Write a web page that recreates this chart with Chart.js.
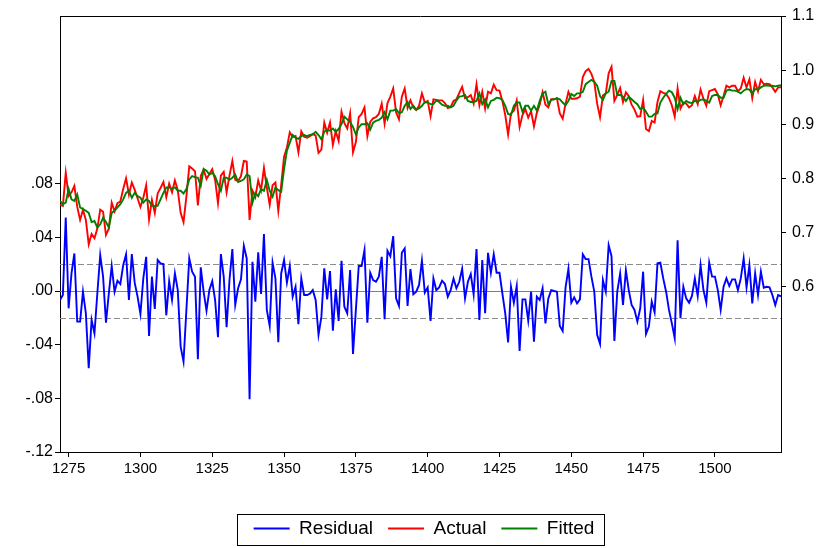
<!DOCTYPE html>
<html>
<head>
<meta charset="utf-8">
<script src="https://cdn.jsdelivr.net/npm/chart.js@4.4.0/dist/chart.umd.min.js"></script>
<style>
  html, body { margin: 0; padding: 0; background: #fff; }
  #wrap { width: 828px; height: 548px; }
</style>
</head>
<body>
<div id="wrap"><canvas id="chart" width="828" height="548"></canvas></div>
<script>
// observations run 1272 .. 1523, one value per year
const firstYear = 1272;

const residual = [
  -0.0067, -0.0030, 0.0548, -0.0129, 0.0131, 0.0280, -0.0228, -0.0228, -0.0005, -0.0166,
  -0.0575, -0.0216, -0.0315, -0.0017, 0.0268, 0.0107, -0.0236, -0.0017, 0.0186, -0.0005,
  0.0077, 0.0052, 0.0193, 0.0273, -0.0067, 0.0275, 0.0062, -0.0042, -0.0171, 0.0094,
  0.0255, -0.0335, 0.0107, -0.0134, 0.0231, 0.0206, 0.0201, -0.0181, 0.0074, -0.0067,
  0.0131, 0.0007,
  -0.0414, -0.0526, -0.0141, 0.0243, 0.0144, 0.0107, -0.0508, 0.0176, -0.0005, -0.0146,
  0.0007, 0.0074, -0.0067, -0.0345, 0.0275, 0.0107, -0.0270, 0.0082, 0.0312, -0.0104,
  0.0020, 0.0087, 0.0337, 0.0243, -0.0806, 0.0218, -0.0079, 0.0288, -0.0022, 0.0424,
  -0.0141, -0.0260, 0.0211, 0.0094, -0.0382, 0.0131, 0.0231, 0.0062, 0.0186, -0.0042,
  0.0032,
  -0.0248, 0.0094, -0.0030, -0.0030, -0.0020, 0.0007, -0.0067, -0.0327, -0.0191, 0.0169,
  -0.0062, 0.0149, -0.0295, 0.0012, -0.0223, 0.0226, -0.0117, -0.0166, 0.0156, -0.0469,
  -0.0141, 0.0186, 0.0186, 0.0305, -0.0236, 0.0136, 0.0082, 0.0069, 0.0107, 0.0255,
  -0.0211, 0.0300, 0.0260, 0.0409, -0.0055, -0.0112, 0.0285, 0.0317, -0.0112, 0.0164,
  -0.0025, -0.0005, 0.0045,
  0.0226, -0.0012, 0.0027, -0.0223, 0.0094, 0.0007, 0.0027, 0.0077, 0.0052, -0.0042,
  0.0007, 0.0092, 0.0020, 0.0069, 0.0166, -0.0055, 0.0069, 0.0126, -0.0025, 0.0312,
  -0.0216, 0.0231, -0.0166, 0.0285, 0.0136, 0.0275, 0.0136, 0.0136, -0.0017, -0.0166,
  -0.0384, 0.0032, -0.0087, 0.0037, -0.0446, -0.0062, -0.0062, -0.0221, -0.0005, -0.0377,
  -0.0042,
  -0.0067, 0.0020, -0.0241, -0.0055, 0.0007, 0.0000, -0.0005, -0.0260, -0.0298, 0.0027,
  0.0166, -0.0087, -0.0047, -0.0092, -0.0062, 0.0273, 0.0238, 0.0238, 0.0107, -0.0005,
  -0.0327, -0.0394, 0.0082, -0.0005, 0.0342, 0.0260, -0.0372, -0.0005, 0.0131, -0.0104,
  0.0156, 0.0007, -0.0104, -0.0141, -0.0228, -0.0129, 0.0144, -0.0320, -0.0265, -0.0079,
  -0.0159, 0.0206, 0.0211,
  0.0094, -0.0005, -0.0141, -0.0241, -0.0352, 0.0379, -0.0203, 0.0032, -0.0055, -0.0087,
  -0.0037, 0.0094, -0.0037, 0.0193, 0.0007, -0.0087, 0.0211, 0.0107, 0.0107, 0.0007,
  -0.0141, 0.0032, 0.0094, 0.0037, 0.0087, 0.0087, 0.0007, 0.0094, 0.0243, 0.0027,
  0.0193, -0.0092, 0.0131, -0.0030, 0.0144, 0.0025, 0.0032, 0.0027, -0.0030, -0.0104,
  -0.0030, -0.0040
];

const actual = [
  .751, .749, .810, .767, .774, .786, .747, .723, .742, .723,
  .678, .697, .689, .707, .742, .738, .695, .707, .755, .739,
  .754, .757, .780, .800, .770, .792, .779, .763, .747, .764,
  .787, .724, .760, .736, .772, .782, .793, .765, .790, .774,
  .796, .778,
  .736, .719, .766, .822, .818, .813, .750, .804, .816, .799,
  .808, .817, .797, .754, .805, .812, .774, .805, .832, .797,
  .795, .804, .832, .831, .723, .777, .765, .796, .778, .819,
  .783, .751, .787, .792, .740, .788, .840, .857, .885, .876,
  .878,
  .848, .887, .877, .875, .878, .882, .879, .847, .853, .903,
  .884, .903, .862, .887, .869, .923, .902, .892, .920, .848,
  .867, .913, .919, .931, .878, .904, .911, .913, .919, .938,
  .901, .939, .951, .966, .922, .909, .951, .966, .930, .944,
  .931, .926, .934,
  .957, .940, .943, .915, .946, .945, .944, .944, .939, .930,
  .932, .943, .946, .958, .969, .948, .950, .954, .938, .974,
  .935, .960, .929, .960, .957, .973, .963, .962, .943, .917,
  .881, .920, .925, .944, .895, .917, .928, .912, .924, .896,
  .921,
  .936, .959, .936, .931, .946, .946, .948, .920, .910, .938,
  .960, .947, .947, .948, .951, .987, .998, 1.002, .993, .978,
  .938, .913, .953, .957, .994, 1.006, .943, .954, .967, .941,
  .959, .952, .936, .927, .914, .915, .945, .891, .887, .906,
  .903, .941, .961,
  .958, .956, .948, .935, .914, .966, .929, .940, .938, .931,
  .935, .952, .937, .964, .947, .934, .961, .963, .965, .955,
  .935, .952, .971, .968, .971, .971, .961, .966, .986, .968,
  .983, .948, .978, .961, .982, .974, .975, .974, .968, .960,
  .968, .968
];

const fitted = [
  .758, .752, .755, .780, .761, .758, .770, .746, .743, .740,
  .736, .719, .721, .709, .715, .727, .719, .709, .736, .740,
  .746, .752, .761, .773, .777, .764, .773, .767, .764, .755,
  .761, .758, .749, .749, .749, .761, .773, .783, .783, .781,
  .783, .777,
  .777, .772, .780, .798, .804, .802, .801, .786, .817, .814,
  .807, .810, .804, .789, .777, .801, .801, .797, .801, .807,
  .793, .795, .798, .807, .804, .755, .773, .767, .780, .777,
  .797, .777, .766, .783, .778, .775, .817, .851, .866, .880,
  .875,
  .873, .878, .880, .878, .880, .881, .886, .880, .872, .886,
  .890, .888, .892, .886, .891, .900, .914, .909, .904, .895,
  .881, .894, .900, .900, .902, .890, .903, .906, .908, .912,
  .922, .909, .925, .925, .928, .920, .922, .934, .941, .928,
  .934, .927, .929,
  .934, .941, .940, .937, .937, .944, .941, .936, .934, .934,
  .931, .934, .944, .951, .952, .954, .943, .941, .941, .943,
  .957, .937, .946, .931, .943, .945, .949, .948, .945, .934,
  .919, .917, .934, .940, .940, .923, .934, .934, .925, .934,
  .925,
  .943, .957, .960, .937, .945, .946, .948, .946, .940, .935,
  .943, .956, .952, .957, .957, .960, .974, .978, .982, .978,
  .971, .952, .945, .957, .960, .980, .980, .954, .954, .951,
  .943, .951, .946, .941, .937, .928, .931, .923, .914, .914,
  .919, .920, .940,
  .949, .956, .962, .959, .949, .928, .949, .937, .943, .940,
  .939, .943, .941, .945, .946, .943, .940, .952, .954, .954,
  .949, .949, .962, .964, .962, .962, .960, .957, .962, .965,
  .964, .957, .965, .964, .968, .971, .972, .971, .971, .970,
  .971, .972
];

const xTicks = [1275, 1300, 1325, 1350, 1375, 1400, 1425, 1450, 1475, 1500];
const leftTicks = [-0.12, -0.08, -0.04, 0, 0.04, 0.08];
const rightTicks = [0.6, 0.7, 0.8, 0.9, 1.0, 1.1];
const seLines = [0.02, -0.02];

const years = residual.map((_, i) => firstYear + i);
const toPoints = vals => vals.map((v, i) => ({ x: years[i], y: v }));

const FONT = 'Liberation Sans, Arial, sans-serif';

// eviews style: ".08", "-.04"
function shortNum(v) {
    const s = Math.abs(v).toFixed(2).replace(/^0/, '');
    return (v < 0 ? '-' : '') + s;
}

const frameAndRefs = {
    id: 'frameAndRefs',
    beforeDatasetsDraw(chart) {
        const { ctx, chartArea: a, scales } = chart;
        ctx.save();
        ctx.lineWidth = 1;
        ctx.strokeStyle = '#7f7f7f';
        const y0 = Math.round(scales.yL.getPixelForValue(0)) + 0.5;
        ctx.beginPath();
        ctx.moveTo(a.left, y0);
        ctx.lineTo(a.right, y0);
        ctx.stroke();
        ctx.setLineDash([6, 3]);
        ctx.strokeStyle = '#8c8c8c';
        seLines.forEach(v => {
            const y = Math.round(scales.yL.getPixelForValue(v)) + 0.5;
            ctx.beginPath();
            ctx.moveTo(a.left, y);
            ctx.lineTo(a.right, y);
            ctx.stroke();
        });
        ctx.restore();
    },
    afterDraw(chart) {
        const { ctx, chartArea: a } = chart;
        ctx.save();
        ctx.strokeStyle = '#000';
        ctx.lineWidth = 1;
        ctx.beginPath();
        ctx.moveTo(a.left, Math.round(a.top) + 0.5);
        ctx.lineTo(a.right, Math.round(a.top) + 0.5);
        ctx.stroke();

        // box round the legend
        const hb = chart.legend.legendHitBoxes;
        if (hb && hb.length) {
            const last = hb[hb.length - 1];
            const left = Math.round(hb[0].left - 17) + 0.5;
            const right = Math.round(last.left + last.width + 10) + 0.5;
            const top = Math.round(hb[0].top - 5) + 0.5;
            const bottom = Math.round(hb[0].top + hb[0].height + 7) + 0.5;
            ctx.strokeRect(left, top, right - left, bottom - top);
        }
        ctx.restore();
    }
};

new Chart(document.getElementById('chart'), {
    type: 'line',
    data: {
        datasets: [
            { label: 'Residual', data: toPoints(residual), yAxisID: 'yL', borderColor: '#0000ff', backgroundColor: '#0000ff', borderWidth: 1.9, order: 2 },
            { label: 'Actual', data: toPoints(actual), yAxisID: 'yR', borderColor: '#ff0000', backgroundColor: '#ff0000', borderWidth: 1.9, order: 1 },
            { label: 'Fitted', data: toPoints(fitted), yAxisID: 'yR', borderColor: '#008000', backgroundColor: '#008000', borderWidth: 1.9, order: 0 }
        ]
    },
    options: {
        responsive: false,
        animation: false,
        events: [],
        elements: { point: { radius: 0 }, line: { tension: 0 } },
        layout: { padding: { top: 16, left: 20, right: 0, bottom: 0 } },
        plugins: {
            tooltip: { enabled: false },
            legend: {
                position: 'bottom',
                labels: {
                    usePointStyle: true,
                    pointStyle: 'line',
                    pointStyleWidth: 36,
                    padding: 15,
                    color: '#000',
                    font: { family: FONT, size: 19 },
                    sort: (a, b) => a.datasetIndex - b.datasetIndex
                }
            }
        },
        scales: {
            x: {
                type: 'linear',
                min: firstYear,
                max: years[years.length - 1],
                afterBuildTicks: s => { s.ticks = xTicks.map(v => ({ value: v })); },
                afterFit: s => { s.height = 52; },
                grid: { drawOnChartArea: false, drawTicks: true, tickLength: 5, color: '#000' },
                border: { display: true, color: '#000', width: 1 },
                ticks: { color: '#000', padding: 3, maxRotation: 0, autoSkip: false, font: { family: FONT, size: 15 }, callback: v => String(v) }
            },
            yL: {
                type: 'linear',
                position: 'left',
                min: -0.12,
                max: 0.205,
                afterBuildTicks: s => { s.ticks = leftTicks.map(v => ({ value: v })); },
                afterFit: s => { s.width = 40; },
                grid: { drawOnChartArea: false, drawTicks: true, tickLength: 5, color: '#000' },
                border: { display: true, color: '#000', width: 1 },
                ticks: { color: '#000', padding: 2, font: { family: FONT, size: 16 }, callback: v => shortNum(v) }
            },
            yR: {
                type: 'linear',
                position: 'right',
                min: 0.294,
                max: 1.1,
                afterBuildTicks: s => { s.ticks = rightTicks.map(v => ({ value: v })); },
                afterFit: s => { s.width = 47; },
                grid: { drawOnChartArea: false, drawTicks: true, tickLength: 5, color: '#000' },
                border: { display: true, color: '#000', width: 1 },
                ticks: { color: '#000', padding: 6, font: { family: FONT, size: 16 }, callback: v => v.toFixed(1) }
            }
        }
    },
    plugins: [frameAndRefs]
});
</script>
</body>
</html>
